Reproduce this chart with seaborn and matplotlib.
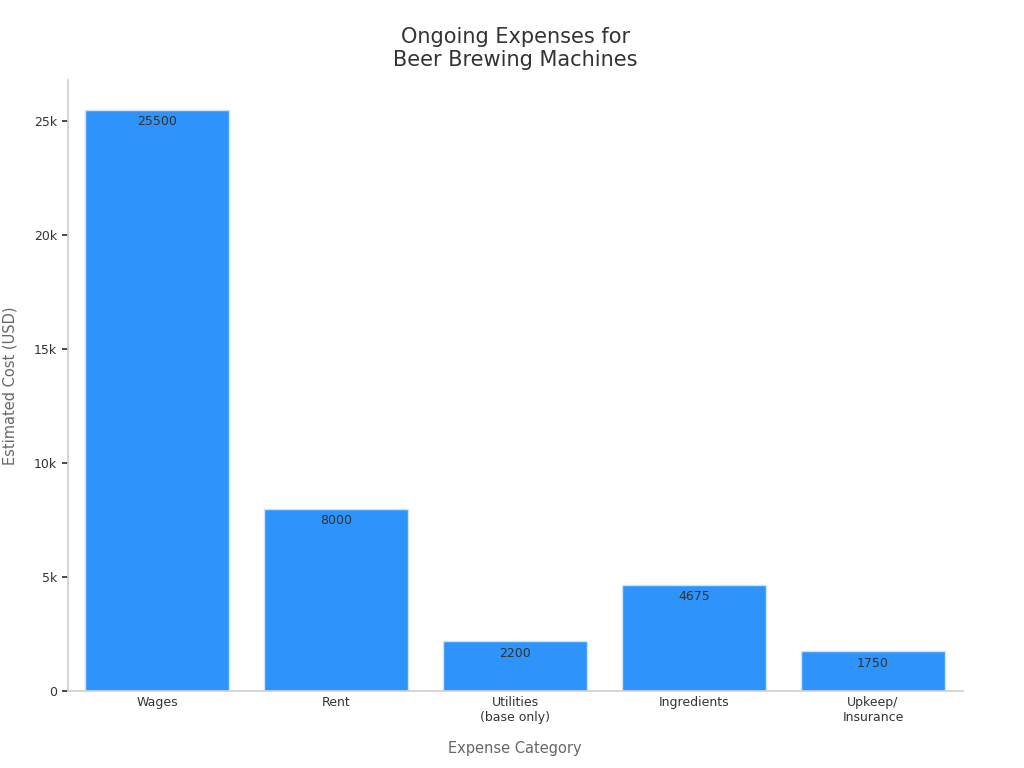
import pandas as pd
import matplotlib.pyplot as plt
import seaborn as sns

# data
categories = ["Wages", "Rent", "Utilities\n(base only)", "Ingredients", "Upkeep/\nInsurance"]
costs = [25500, 8000, 2200, 4675, 1750]

df = pd.DataFrame({"Category": categories, "Cost": costs})

sns.set_theme(style="white")
plt.rcParams['font.family'] = ['DejaVu Sans']

fig = plt.figure(figsize=(10.24, 7.68), dpi=100)
ax = fig.add_axes([0.066, 0.100, 0.874, 0.796])

sns.barplot(data=df, x="Category", y="Cost", color="#2E93FA", saturation=1,
            width=0.8, edgecolor="#cfe3fb", linewidth=1, ax=ax)

for i, v in enumerate(costs):
    ax.text(i, v - 250, str(v), ha="center", va="top", fontsize=9, color="#333333")

ax.set_ylim(0, 26800)
ax.set_xlim(-0.5, 4.5)
ax.set_yticks([0, 5000, 10000, 15000, 20000, 25000])
ax.set_yticklabels(["0", "5k", "10k", "15k", "20k", "25k"])
ax.tick_params(axis="both", labelsize=9, colors="#333333", length=4, left=True, bottom=True)
ax.tick_params(axis="x", length=0)
for t in ax.get_yticklabels():
    t.set_color("#333333")

sns.despine(ax=ax)
for s in ["left", "bottom"]:
    ax.spines[s].set_color("#d0d0d0")

ax.set_xlabel("Expense Category", fontsize=10.5, color="#666666", labelpad=12)
ax.set_ylabel("Estimated Cost (USD)", fontsize=10.5, color="#666666", labelpad=12)
ax.set_title("Ongoing Expenses for\nBeer Brewing Machines", fontsize=15, color="#333333", pad=10)

fig.savefig("out.png", dpi=100)
